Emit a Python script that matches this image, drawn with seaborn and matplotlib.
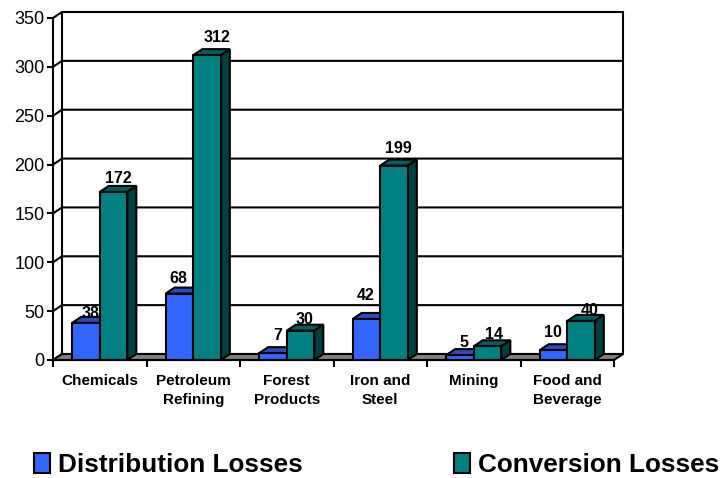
import pandas as pd
import matplotlib
matplotlib.use("Agg")
import matplotlib.pyplot as plt
import seaborn as sns
from matplotlib.patches import Polygon

# Values
industries = ['Chemicals', 'Petroleum\nRefining', 'Forest\nProducts', 'Iron and\nSteel', 'Mining', 'Food and\nBeverage']
distribution = [38, 68, 7, 42, 5, 10]
conversion = [172, 312, 30, 199, 14, 40]
y_ticks = [0, 50, 100, 150, 200, 250, 300, 350]

# Hand nudges for the value labels, in pixels: right of bar centre, above bar top
dist_nudge = [(5, 2), (-1, 8), (5, 10), (-1, 16), (4, 5), (-1, 10)]
conv_nudge = [(5, 6), (10, 10), (4, 4), (4, 10), (6, 4), (9, 3)]

W, H = 721, 478
LEFT, RIGHT, TOP, BOTTOM = 53, 614, 18, 360
DEPTH_X, DEPTH_Y = 9, 6

sns.set_theme(style="white")
plt.rcParams['font.family'] = ['Liberation Sans', 'DejaVu Sans']

df = pd.DataFrame({
    'industry': industries * 2,
    'loss': ['Distribution Losses'] * 6 + ['Conversion Losses'] * 6,
    'value': distribution + conversion,
})

fig = plt.figure(figsize=(W / 100, H / 100), dpi=100)
ax = fig.add_axes([LEFT / W, 1 - BOTTOM / H, (RIGHT - LEFT) / W, (BOTTOM - TOP) / H])
ax.patch.set_alpha(0)

sns.barplot(data=df, x='industry', y='value', hue='loss', order=industries,
            palette=['#3366FF', '#008080'], width=0.59, gap=0, dodge=True,
            saturation=1, edgecolor='black', linewidth=1.5, legend=False, ax=ax, zorder=5)

ax.set_xlim(-0.5, 5.5)
ax.set_ylim(0, 350)
ax.set_xlabel('')
ax.set_ylabel('')

# pixel depth expressed in data units
dx = DEPTH_X * 6 / (RIGHT - LEFT)
dy = DEPTH_Y * 350 / (BOTTOM - TOP)

# back wall lines
for v in y_ticks:
    ax.plot([-0.5, -0.5 + dx, 5.5 + dx], [v, v + dy, v + dy], color='black', lw=1.5,
            clip_on=False, zorder=1, solid_joinstyle='miter')
ax.plot([-0.5 + dx, -0.5 + dx], [dy, 350 + dy], color='black', lw=1.5, clip_on=False, zorder=1)
ax.plot([5.5 + dx, 5.5 + dx], [dy, 350 + dy], color='black', lw=1.5, clip_on=False, zorder=1)

# floor
ax.add_patch(Polygon([(-0.5, 0), (5.5, 0), (5.5 + dx, dy), (-0.5 + dx, dy)], closed=True,
                     facecolor='#808080', edgecolor='black', lw=1.5, clip_on=False, zorder=2))

# 3d sides and tops for each bar
shades = [('#2A4CBF', '#1A3080', 3), ('#006060', '#004040', 4)]
for c, container in enumerate(ax.containers):
    top_col, side_col, z = shades[c]
    nudges = [dist_nudge, conv_nudge][c]
    for b, (nudge_x, nudge_y) in zip(container, nudges):
        x0, x1, h = b.get_x(), b.get_x() + b.get_width(), b.get_height()
        b.set_zorder(z + 0.5)
        ax.add_patch(Polygon([(x0, h), (x1, h), (x1 + dx, h + dy), (x0 + dx, h + dy)], closed=True,
                             facecolor=top_col, edgecolor='black', lw=1.5, clip_on=False, zorder=z))
        ax.add_patch(Polygon([(x1, 0), (x1 + dx, dy), (x1 + dx, h + dy), (x1, h)], closed=True,
                             facecolor=side_col, edgecolor='black', lw=1.5, clip_on=False, zorder=z))
        ax.annotate(str(int(h)), (b.get_x() + b.get_width() / 2, h),
                    xytext=(nudge_x * 0.72, nudge_y * 0.72),
                    textcoords='offset points', ha='center', va='bottom', fontsize=11.5,
                    fontweight='bold', color='black', zorder=z - 0.5 if c == 0 else 8,
                    annotation_clip=False)

# axes and ticks
for s in ['top', 'right']:
    ax.spines[s].set_visible(False)
for s in ['left', 'bottom']:
    ax.spines[s].set_visible(True)
    ax.spines[s].set_color('black')
    ax.spines[s].set_linewidth(1.5)
    ax.spines[s].set_zorder(6)
ax.set_yticks(y_ticks)
ax.tick_params(axis='y', left=True, length=4, width=1.5, color='black', labelsize=13,
               labelcolor='black', pad=2)
ax.set_xticks(range(6))
ax.set_xticklabels(industries, fontsize=11, fontweight='bold', color='black', linespacing=1.4)
ax.set_xticks([k - 0.5 for k in range(7)], minor=True)
ax.tick_params(axis='x', which='major', bottom=False, length=0, pad=10.2)
ax.tick_params(axis='x', which='minor', bottom=True, length=5, width=1.5, color='black')

# legend squares and text
leg_handles = [plt.Rectangle((0, 0), 1, 1, facecolor='#3366FF', edgecolor='black', lw=1.5),
               plt.Rectangle((0, 0), 1, 1, facecolor='#008080', edgecolor='black', lw=1.5)]
fig.legend(leg_handles, ['Distribution Losses', 'Conversion Losses'], ncol=2, frameon=False,
           loc='lower left', bbox_to_anchor=(34 / W, 0.5 / H), borderaxespad=0, borderpad=0,
           prop={'weight': 'bold', 'size': 18.8},
           handlelength=0.61, handleheight=0.8, handletextpad=0.3, columnspacing=5.8, labelcolor='black')

plt.savefig('out.png', dpi=100)
plt.close()
